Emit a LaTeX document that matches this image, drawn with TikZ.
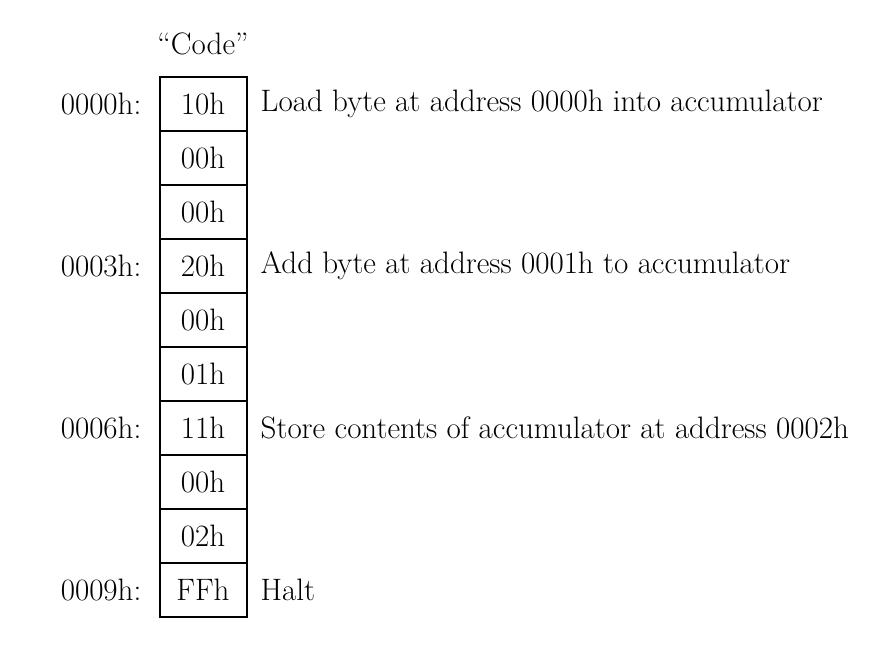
\documentclass[tikz,border=0pt]{standalone}
\usepackage{fontspec}
\begin{document}
\begin{tikzpicture}[x=1pt,y=-1pt,
  txt/.style={font=\fontsize{31}{33}\selectfont},
  cell/.style={txt, draw, line width=2pt, minimum width=87pt, minimum height=54pt, inner sep=0pt},
  addr/.style={txt, anchor=east, inner sep=0pt},
  desc/.style={txt, anchor=west, inner sep=0pt},
  hdr/.style={txt, inner sep=0pt}]
\useasboundingbox (0,0) rectangle (895,650);
\foreach \v [count=\i from 0] in {10h,00h,00h,20h,00h,01h,11h,00h,02h,FFh} {
  \node[cell] (c\i) at (203,{104+54*\i}) {\v};
}
\node[hdr, anchor=base] (code) at (203,55) {``Code''};
\node[addr, xshift=-17pt] (a0) at (c0.west) {0000h:};
\node[addr, xshift=-17pt] (a3) at (c3.west) {0003h:};
\node[addr, xshift=-17pt] (a6) at (c6.west) {0006h:};
\node[addr, xshift=-17pt] (a9) at (c9.west) {0009h:};
\node[desc, xshift=13pt] (d0) at (c0.east) {Load byte at address 0000h into accumulator};
\node[desc, xshift=13pt] (d3) at (c3.east) {Add byte at address 0001h to accumulator};
\node[desc, xshift=13pt] (d6) at (c6.east) {Store contents of accumulator at address 0002h};
\node[desc, xshift=13pt] (d9) at (c9.east) {Halt};
\end{tikzpicture}
\end{document}
